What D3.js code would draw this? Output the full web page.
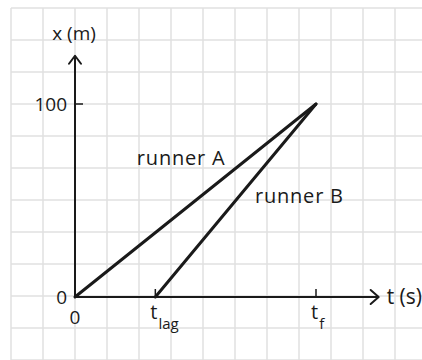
<!DOCTYPE html>
<html><head><meta charset="utf-8">
<script src="https://cdn.jsdelivr.net/npm/d3@7"></script>
<style>
html,body{margin:0;padding:0;background:#fff;}
svg{display:block;}
text{font-family:"Open Sans",sans-serif;fill:#1a1a1a;}
</style></head>
<body><svg id="c" width="422" height="360"></svg>
<script>
// Data
const seriesNames = ["runner A", "runner B"];
const runnerA = [[0, 0], [3, 100]];   // [t, x]
const runnerB = [[1, 0], [3, 100]];
const xTickValues = [0, 1, 3];
const xTickLabels = ["0", "lag", "f"];
const yTickValues = [0, 100];
const yTickLabels = ["0", "100"];
const axisMax = {t: 3.78, x: 125};

const svg = d3.select("#c");
const W = 422, H = 360;
const tS = d3.scaleLinear().domain([0, 3]).range([75, 316]);
const xS = d3.scaleLinear().domain([0, 100]).range([297, 104]);

// paper grid
const g = svg.append("g");
const gs = 32;
d3.range(11, W + 1, gs).forEach(px => g.append("line").attr("x1", px).attr("x2", px).attr("y1", 8).attr("y2", H).attr("stroke", "#e0e0e0").attr("stroke-width", 1.5));
d3.range(8, H + 1, gs).forEach(py => g.append("line").attr("x1", 11).attr("x2", W).attr("y1", py).attr("y2", py).attr("stroke", "#e0e0e0").attr("stroke-width", 1.5));

const ink = "#1a1a1a";
// axes
const x0 = tS(0), y0 = xS(0);
const xEnd = tS(axisMax.t), yEnd = xS(axisMax.x);
svg.append("line").attr("x1", x0).attr("x2", xEnd).attr("y1", y0).attr("y2", y0).attr("stroke", ink).attr("stroke-width", 2);
svg.append("line").attr("x1", x0).attr("x2", x0).attr("y1", y0).attr("y2", yEnd).attr("stroke", ink).attr("stroke-width", 2);
// arrowheads
svg.append("path").attr("d", `M${xEnd-8},${y0-7}L${xEnd},${y0}L${xEnd-8},${y0+7}`).attr("fill", "none").attr("stroke", ink).attr("stroke-width", 2).attr("stroke-linejoin","round").attr("stroke-linecap","round");
svg.append("path").attr("d", `M${x0-6},${yEnd+8}L${x0},${yEnd}L${x0+6},${yEnd+8}`).attr("fill", "none").attr("stroke", ink).attr("stroke-width", 2).attr("stroke-linejoin","round").attr("stroke-linecap","round");

// ticks
xTickValues.slice(1).forEach(v => svg.append("line").attr("x1", tS(v)).attr("x2", tS(v)).attr("y1", y0).attr("y2", y0 - 8).attr("stroke", ink).attr("stroke-width", 1.5));
yTickValues.slice(1).forEach(v => svg.append("line").attr("x1", x0).attr("x2", x0 + 8).attr("y1", xS(v)).attr("y2", xS(v)).attr("stroke", ink).attr("stroke-width", 1.5));

// lines
const line = d3.line().x(d => tS(d[0])).y(d => xS(d[1]));
[runnerA, runnerB].forEach(d => svg.append("path").datum(d).attr("d", line).attr("fill", "none").attr("stroke", ink).attr("stroke-width", 3).attr("stroke-linecap", "round").attr("stroke-linejoin", "round"));

// tick labels
const fs = 19;
svg.append("text").attr("x", x0 - 8).attr("y", xS(yTickValues[0]) + 7).attr("text-anchor", "end").attr("font-size", fs).text(yTickLabels[0]);
svg.append("text").attr("x", x0 - 8).attr("y", xS(yTickValues[1]) + 7).attr("text-anchor", "end").attr("font-size", fs).text(yTickLabels[1]);
svg.append("text").attr("x", tS(xTickValues[0])).attr("y", y0 + 27).attr("text-anchor", "middle").attr("font-size", fs).text(xTickLabels[0]);
xTickValues.slice(1).forEach((v, i) => {
  const t = svg.append("text").attr("x", tS(v) - 5).attr("y", y0 + 22).attr("font-size", 20);
  t.append("tspan").text("t");
  t.append("tspan").attr("dy", 10).attr("dx", 1).attr("font-size", 15).text(xTickLabels[i + 1]);
});

// axis titles
svg.append("text").attr("x", x0 - 1).attr("y", 40).attr("text-anchor", "middle").attr("font-size", fs).text("x (m)");
svg.append("text").attr("x", xEnd + 8).attr("y", y0 + 7).attr("font-size", 21).text("t (s)");

// series labels
svg.append("text").attr("x", tS(0.77)).attr("y", xS(68.4)).attr("font-size", 20).attr("letter-spacing", 0.8).text(seriesNames[0]);
svg.append("text").attr("x", tS(2.24)).attr("y", xS(48.7)).attr("font-size", 20).attr("letter-spacing", 0.8).text(seriesNames[1]);
</script></body></html>
